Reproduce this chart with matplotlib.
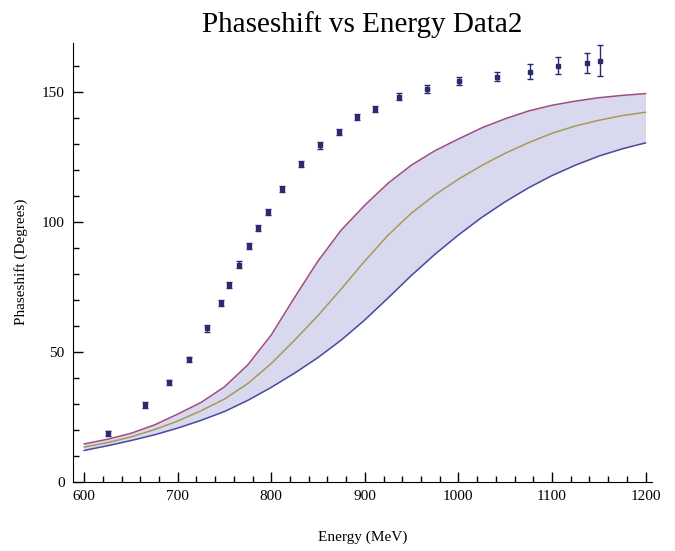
import matplotlib.pyplot as plt
from matplotlib.ticker import MultipleLocator

# measured phase shift points (energy in MeV, phase in degrees, error)
energy = [626, 665, 691, 712, 731, 746, 755, 766, 776, 786, 797, 811, 832, 852,
          872, 892, 911, 937, 966, 1001, 1041, 1077, 1107, 1137, 1151]
phase = [18.6, 29.5, 38.2, 47.1, 59.0, 68.8, 75.7, 83.6, 90.7, 97.7, 103.8, 112.6,
         122.5, 129.5, 134.6, 140.4, 143.6, 148.3, 151.3, 154.5, 156.0, 158.0,
         160.3, 161.3, 162.2]
phase_err = [1.0, 1.0, 1.0, 1.0, 1.2, 1.2, 1.2, 1.2, 1.2, 1.2, 1.2, 1.2, 1.2, 1.2,
             1.2, 1.2, 1.2, 1.3, 1.4, 1.5, 1.8, 3.0, 3.3, 4.0, 6.0]

# model curves
curve_e = [600, 625, 650, 675, 700, 725, 750, 775, 800, 825, 850, 875, 900,
           925, 950, 975, 1000, 1025, 1050, 1075, 1100, 1125, 1150, 1175, 1200]
upper = [14.5, 16.3, 18.6, 21.8, 26.0, 30.5, 36.5, 45.0, 56.5, 71.0, 85.0, 97.0,
         106.5, 115.0, 122.0, 127.5, 132.0, 136.3, 139.8, 142.8, 145.0, 146.6,
         147.9, 148.8, 149.5]
middle = [13.3, 15.0, 17.2, 20.0, 23.3, 27.3, 31.8, 37.8, 45.5, 54.5, 64.0, 74.3,
          85.0, 95.0, 103.5, 110.5, 116.5, 121.8, 126.5, 130.6, 134.2, 137.0,
          139.2, 141.0, 142.3]
lower = [12.0, 13.8, 15.8, 18.0, 20.6, 23.6, 27.0, 31.3, 36.3, 41.8, 47.8, 54.6,
         62.3, 70.8, 79.5, 87.6, 95.0, 101.8, 107.8, 113.2, 117.9, 121.9, 125.4,
         128.2, 130.5]

plt.rcParams['font.family'] = ['Liberation Serif', 'DejaVu Serif']

fig = plt.figure(figsize=(6.75, 5.51), dpi=100)
ax = fig.add_axes([0.108, 0.126, 0.858, 0.796])

# shaded band between the outer curves
ax.fill_between(curve_e, lower, upper, color='#d8d8ee', linewidth=0)
ax.plot(curve_e, lower, color='#4a4aa0', linewidth=1.1)
ax.plot(curve_e, upper, color='#a04a80', linewidth=1.1)
ax.plot(curve_e, middle, color='#a89a55', linewidth=1.1)

ax.errorbar(energy, phase, yerr=phase_err, fmt='s', color='#2a2a70',
            markersize=3.2, elinewidth=1, capsize=2, capthick=1)

ax.set_xlim(588, 1207)
ax.set_ylim(0, 169)
ax.xaxis.set_major_locator(MultipleLocator(100))
ax.xaxis.set_minor_locator(MultipleLocator(20))
ax.yaxis.set_major_locator(MultipleLocator(50))
ax.yaxis.set_minor_locator(MultipleLocator(10))
ax.tick_params(which='both', direction='in', labelsize=11, width=1)
ax.tick_params(which='major', length=7, pad=6)
ax.tick_params(which='minor', length=4)

ax.spines['top'].set_visible(False)
ax.spines['right'].set_visible(False)

ax.set_xlabel('Energy (MeV)', fontsize=11, labelpad=20)
ax.set_ylabel('Phaseshift (Degrees)', fontsize=11, labelpad=10)
ax.set_title('Phaseshift vs Energy Data2', fontsize=21, pad=8)

plt.savefig('out.png', dpi=100)
